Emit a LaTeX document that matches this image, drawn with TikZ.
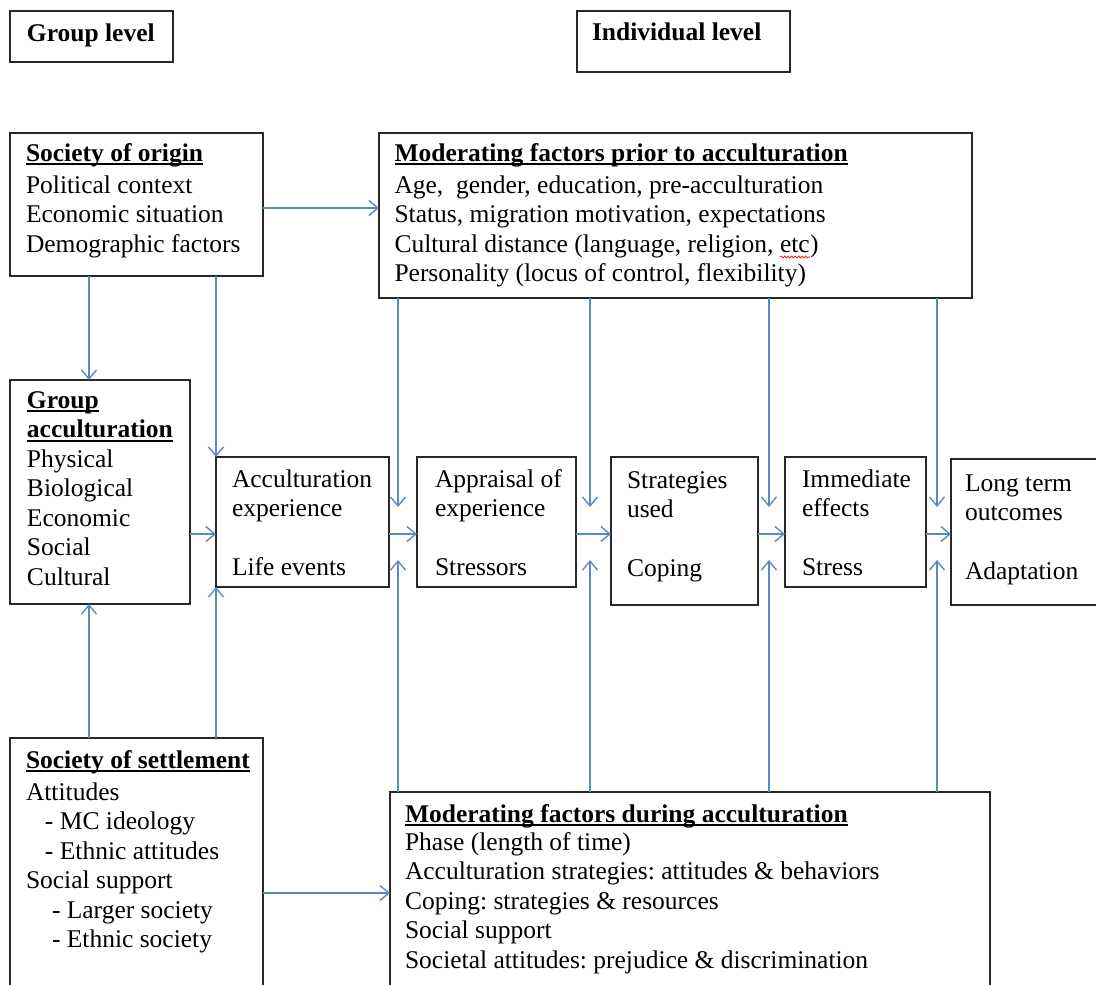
\documentclass[tikz,border=0pt]{standalone}
\usepackage{fontspec}
\setmainfont{Liberation Serif}
\usetikzlibrary{arrows.meta,calc,decorations.pathmorphing}
\definecolor{linkblue}{RGB}{92,137,190}
\definecolor{boxline}{RGB}{40,40,40}
\frenchspacing
% underlined bold heading
\newsavebox\ttlbox
\newcommand\ttl[1]{\sbox\ttlbox{\bfseries #1}\rlap{\rule[-4pt]{\wd\ttlbox}{1.8pt}}\usebox\ttlbox}
% fixed first-line height so text tops are predictable
\newcommand\fl{\rule{0pt}{20pt}}
% red wavy spell-check mark under a word
\newcommand\spellmark[1]{\tikz[baseline=(sm.base)]{\node[inner sep=0pt,outer sep=0pt,anchor=base west] (sm) at (0,0) {#1};
  \draw[red,line width=0.7pt,decorate,decoration={snake,amplitude=1pt,segment length=3.5pt}] ([yshift=-5pt]sm.base west) -- ([yshift=-5pt]sm.base east);}}
\begin{document}
\begin{tikzpicture}[x=1pt,y=-1pt,
  box/.style={draw=boxline,line width=1.6pt,inner sep=0pt,outer sep=0pt,anchor=north west},
  txt/.style={inner sep=0pt,outer sep=0pt,anchor=north west,align=left,font=\fontsize{25.5pt}{29.5pt}\selectfont},
  arr/.style={draw=linkblue,line width=1.5pt,-{Straight Barb[length=9pt,width=15pt,line width=1.4pt]}}]
\useasboundingbox (0,0) rectangle (1096,985);
\clip (0,0) rectangle (1096,985);
\fill[white] (0,0) rectangle (1096,985);

% ---------- boxes ----------
\node[box,minimum width=163pt,minimum height=51pt] (grplvl) at (10,11) {};
\node[box,minimum width=213pt,minimum height=61pt] (indlvl) at (577,11) {};
\node[box,minimum width=253pt,minimum height=143pt] (origin) at (10,133) {};
\node[box,minimum width=593pt,minimum height=165pt] (prior) at (379,133) {};
\node[box,minimum width=180pt,minimum height=224pt] (grpacc) at (10,380) {};
\node[box,minimum width=173pt,minimum height=130pt] (accexp) at (216,457) {};
\node[box,minimum width=159pt,minimum height=130pt] (apprais) at (417,457) {};
\node[box,minimum width=147pt,minimum height=148pt] (strat) at (611,457) {};
\node[box,minimum width=141pt,minimum height=130pt] (immed) at (785,457) {};
\node[box,minimum width=170pt,minimum height=146pt] (longt) at (951,459) {};
\node[box,minimum width=253pt,minimum height=270pt] (settle) at (10,738) {};
\node[box,minimum width=600pt,minimum height=220pt] (during) at (390,792) {};

% ---------- texts ----------
\node[txt] (grplvl-t) at ($(grplvl.north west)+(17,10)$) {\fl\textbf{Group level}};
\node[txt] (indlvl-t) at ($(indlvl.north west)+(15,9)$) {\fl\textbf{Individual level}};
\node[txt] (origin-t) at ($(origin.north west)+(16,8)$)
  {\fl\ttl{Society of origin}\\[2.5pt]Political context\\Economic situation\\Demographic factors};
\node[txt] (prior-t) at ($(prior.north west)+(15.5,8)$)
  {\fl\ttl{Moderating factors prior to acculturation}\\[2.5pt]Age,\ \ gender, education, pre-acculturation\\
   Status, migration motivation, expectations\\Cultural distance (language, religion, \spellmark{etc})\\
   Personality (locus of control, flexibility)};
\node[txt] (grpacc-t) at ($(grpacc.north west)+(17,8)$)
  {\fl\ttl{Group}\\\ttl{acculturation}\\Physical\\Biological\\Economic\\Social\\Cultural};
\node[txt] (accexp-t) at ($(accexp.north west)+(16,10)$) {\fl Acculturation\\experience\\[29.5pt]Life events};
\node[txt] (apprais-t) at ($(apprais.north west)+(18,10)$) {\fl Appraisal of\\experience\\[29.5pt]Stressors};
\node[txt] (strat-t) at ($(strat.north west)+(16,11)$) {\fl Strategies\\used\\[29.5pt]Coping};
\node[txt] (immed-t) at ($(immed.north west)+(17,10)$) {\fl Immediate\\effects\\[29.5pt]Stress};
\node[txt] (longt-t) at ($(longt.north west)+(14,12)$) {\fl Long term\\outcomes\\[29.5pt]Adaptation};
\node[txt] (settle-t) at ($(settle.north west)+(16,10)$)
  {\fl\ttl{Society of settlement}\\[2.5pt]Attitudes\\\hspace*{19pt}- MC ideology\\\hspace*{19pt}- Ethnic attitudes\\
   Social support\\\hspace*{26pt}- Larger society\\\hspace*{26pt}- Ethnic society};
\node[txt] (during-t) at ($(during.north west)+(15,10)$)
  {\fl\ttl{Moderating factors during acculturation}\\[-1.5pt]Phase (length of time)\\
   Acculturation strategies: attitudes \& behaviors\\Coping: strategies \& resources\\Social support\\
   Societal attitudes: prejudice \& discrimination};

% ---------- connector guides ----------
\coordinate (rowA) at (0,208);
\coordinate (rowB) at (0,534);
\coordinate (rowC) at (0,893);
\coordinate (colA) at (89,0);
\coordinate (d1) at (398,507); \coordinate (u1) at (398,560);
\coordinate (d2) at (590,507); \coordinate (u2) at (590,560);
\coordinate (d3) at (769,507); \coordinate (u3) at (769,560);
\coordinate (d4) at (937,507); \coordinate (u4) at (937,560);

% ---------- connectors ----------
\draw[arr] (origin.east |- rowA) -- (prior.west |- rowA);
\draw[arr] (origin.south -| colA) -- (grpacc.north -| colA);
\draw[arr] (origin.south -| accexp.west) -- (accexp.north west);
\draw[arr] (settle.north -| colA) -- (grpacc.south -| colA);
\draw[arr] (settle.north -| accexp.west) -- (accexp.south west);
\draw[arr] (settle.east |- rowC) -- (during.west |- rowC);
\foreach \a/\b in {grpacc/accexp,accexp/apprais,apprais/strat,strat/immed,immed/longt}
  \draw[arr] (\a.east |- rowB) -- (\b.west |- rowB);
\foreach \i in {1,...,4}{
  \draw[arr] (prior.south -| d\i) -- (d\i);
  \draw[arr] (during.north -| u\i) -- (u\i);
}
\end{tikzpicture}
\end{document}
